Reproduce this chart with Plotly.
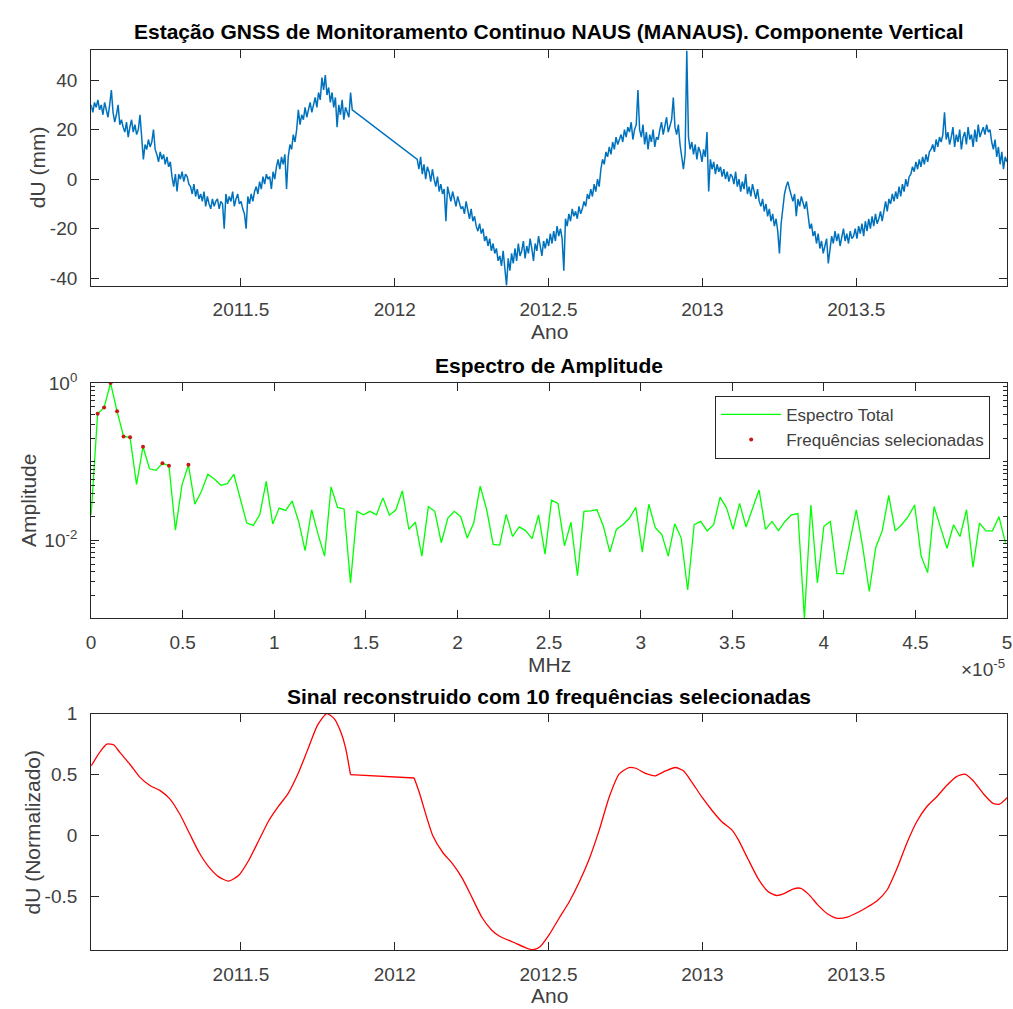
import plotly.graph_objects as go

W, H = 1013, 1009

# ---------------- Panel 1: GNSS vertical component (mm) ----------------
SEG1_START = 2011.013      # first epoch of first data block (year)
SEG2_START = 2012.073      # first epoch after the data gap (year)
STEP_YEARS = 2 / 365.25    # sampling interval (2 days)

du_seg1 = [30, 27, 31, 29, 32, 28, 30, 26, 31, 28, 25, 30,
           36,
           27, 23, 26, 30, 22, 24, 21,
           19, 23, 17, 21, 24, 19, 22, 18, 20, 26, 16,
           8,
           14, 12, 16, 13, 15, 20, 12,
           10, 7, 11, 8, 10, 6, 9, 5, 7,
           1, -3, 2, -5,
           2, 0, 3, -1, 2, 1, -2,
           -3, -6, -2, -7, -4, -8,
           -6, -9, -5, -11, -7, -10, -12, -8, -11, -9,
           -8, -12, -9, -10, -20,
           -6, -10, -7, -9, -5, -11, -8, -6, -10, -9, -12,
           -14, -20,
           -7, -10, -6, -9, -5,
           -3, -6, -1, -4, 1, -2, 2, 0,
           1, -4, 3, 0,
           5, 8, 4, 9, 6, 10, -4,
           9, 14, 12, 18, 15, 20, 28,
           22, 26, 24, 29, 25, 28, 31, 27, 30, 33, 29,
           35, 32, 41, 36, 42, 34,
           37, 31, 35, 29, 33, 21,
           30, 26, 32, 24, 29, 27, 25, 35, 28]

du_seg2 = [8, 4, 9, 2, 6, 0, 5,
           3, -1, 4, 0, -3, 1, -5, -2, -6, -4, -17, -3,
           -6, -9, -5, -8, -11, -7, -10, -12,
           -11, -14, -9, -13, -16, -12, -17, -15, -19, -21,
           -18, -22, -20, -25, -23, -27, -24, -29, -26,
           -30, -28, -33, -31, -35, -29, -36, -43, -32, -37, -30, -34,
           -28, -33, -26, -31, -29, -25, -32, -27, -30, -24, -28, -33, -26, -29, -23, -27, -31, -25, -28,
           -24, -27, -22, -26, -21, -25, -19, -23, -20, -24, -37,
           -16, -19, -14, -17, -12, -15, -13, -16, -11, -14, -12,
           -9, -11, -6, -8, -4, -7, -2, -5, 0, -3,
           4, 8, 6, 11, 9, 13, 10, 15, 12, 17, 14, 16,
           18, 15, 20, 17, 21, 19, 23, 16, 20, 22, 36,
           20, 17, 22, 14, 19, 12, 18, 15, 20, 13, 17, 16,
           20, 23, 18, 21, 25, 19, 22, 24, 33,
           21, 18, 22, 14, 8, 4, 10,
           52,
           17, 12, 15, 10, 14, 8, 13, 11, 7, 12, 9,
           19,
           -5, 8, 4, 7, 2, 6, 3, 5, 1, 4, 0, 3, -1, 2,
           1, -2, 3, -3, 0, -5, -1, -4, 2, -6, -3, -7, -2, -5, -8, -4,
           -9, -11, -8, -13, -10, -15, -12, -17, -14, -19, -16, -21, -30, -18,
           -12, -6, -3, -1, -4,
           -7, -9, -6, -15, -8, -11, -7, -10, -12, -9,
           -16, -20, -18, -23, -21, -26, -22, -28, -25, -30, -27, -24, -34, -28,
           -23, -26, -21, -25, -22, -27, -23, -20, -25, -22, -26, -21, -24, -23,
           -20, -24, -19, -22, -18, -23, -17, -21, -16, -20, -15, -19, -14, -18, -16, -13, -17,
           -12, -9, -13, -8, -10, -6, -9, -5, -8, -3, -7, -2, -5, 0, -3, 1,
           2, 5, 3, 7, 4, 8, 5, 9, 6, 10, 7, 11,
           12, 14, 11, 16, 13, 17, 15, 18, 27, 16,
           19, 14, 17, 21, 13, 18, 15, 20, 12, 17, 19, 14, 21, 16, 18, 13, 20, 15, 22, 17, 19,
           21, 18, 22, 19, 20,
           15, 12, 16, 9, 13, 6, 11, 4, 9, 7]

year_ticks = [2011.5, 2012, 2012.5, 2013, 2013.5]
year_tick_labels = ["2011.5", "2012", "2012.5", "2013", "2013.5"]
du_ticks = [-40, -20, 0, 20, 40]

# ---------------- Panel 2: amplitude spectrum ----------------
FREQ_STEP = 0.0354e-5
amplitude = [0.0211, 0.407, 0.490, 1.0, 0.437, 0.209, 0.204, 0.0513, 0.155, 0.0813,
             0.0776, 0.0955, 0.0891, 0.0135, 0.0501, 0.0912, 0.0288, 0.0417, 0.0692, 0.0603,
             0.0501, 0.0525, 0.0692, 0.0339, 0.0166, 0.0155, 0.0211, 0.0562, 0.0162, 0.0257,
             0.0240, 0.0316, 0.0174, 0.00741, 0.0245, 0.0119, 0.00631, 0.0479, 0.0263, 0.0251,
             0.00288, 0.0234, 0.0211, 0.0234, 0.0211, 0.0347, 0.0209, 0.0245, 0.0427, 0.0138,
             0.0170, 0.00631, 0.0269, 0.0234, 0.00933, 0.0191, 0.0234, 0.0200, 0.0107, 0.0166,
             0.0490, 0.0245, 0.00891, 0.00871, 0.0214, 0.0112, 0.0148, 0.0133, 0.0105, 0.0211,
             0.00668, 0.0324, 0.0295, 0.00851, 0.0170, 0.00355, 0.0234, 0.0237, 0.0245, 0.0151,
             0.00708, 0.0138, 0.0158, 0.0191, 0.0263, 0.00708, 0.0288, 0.0145, 0.0119, 0.00631,
             0.0162, 0.0107, 0.00234, 0.0158, 0.0174, 0.0132, 0.0158, 0.0355, 0.0257, 0.0138,
             0.0295, 0.0148, 0.0257, 0.0437, 0.0138, 0.0174, 0.0133, 0.0174, 0.0211, 0.0219,
             0.00102, 0.0282, 0.00288, 0.0151, 0.0174, 0.00380, 0.00376, 0.00977, 0.0245, 0.00813,
             0.00224, 0.00813, 0.0132, 0.0372, 0.0132, 0.0158, 0.0200, 0.0282, 0.00631, 0.00389,
             0.0269, 0.0145, 0.00794, 0.0158, 0.0112, 0.0245, 0.00457, 0.0166, 0.0132, 0.0132,
             0.0200, 0.00933]
selected_bins = [1, 2, 3, 4, 5, 6, 8, 11, 12, 15]
freq_ticks = [0, 0.5e-5, 1e-5, 1.5e-5, 2e-5, 2.5e-5, 3e-5, 3.5e-5, 4e-5, 4.5e-5, 5e-5]
freq_tick_labels = ["0", "0.5", "1", "1.5", "2", "2.5", "3", "3.5", "4", "4.5", "5"]
amp_ticks = [1e-2, 1e0]
amp_tick_labels = ["10<sup>-2</sup>", "10<sup>0</sup>"]
amp_minor = [m * d for d in (1e-3, 1e-2, 1e-1) for m in range(2, 10)] + [0.1]

# ---------------- Panel 3: reconstructed signal ----------------
# block before the data gap
recon_year_a = [2011.013, 2011.043, 2011.064, 2011.086, 2011.107, 2011.139, 2011.172, 2011.204,
                2011.236, 2011.268, 2011.300, 2011.332, 2011.364, 2011.396, 2011.428, 2011.460,
                2011.493, 2011.525, 2011.557, 2011.589, 2011.621, 2011.653, 2011.685, 2011.717,
                2011.749, 2011.779, 2011.803, 2011.824, 2011.840, 2011.856]
recon_value_a = [0.571, 0.69, 0.75, 0.745, 0.68, 0.585, 0.477, 0.41,
                 0.37, 0.303, 0.18, 0.02, -0.14, -0.26, -0.34, -0.375,
                 -0.327, -0.206, -0.046, 0.115, 0.236, 0.343, 0.504, 0.705,
                 0.906, 1.0, 0.96, 0.853, 0.72, 0.499]
# block after the data gap
recon_year_b = [2012.063, 2012.081, 2012.103, 2012.124, 2012.156, 2012.188, 2012.220, 2012.252,
                2012.284, 2012.316, 2012.342, 2012.385, 2012.428, 2012.449, 2012.471, 2012.503,
                2012.535, 2012.568, 2012.600, 2012.632, 2012.665, 2012.697, 2012.729, 2012.761,
                2012.783, 2012.815, 2012.847, 2012.880, 2012.912, 2012.939, 2012.966, 2012.998,
                2013.030, 2013.062, 2013.095, 2013.116, 2013.148, 2013.181, 2013.213, 2013.240,
                2013.267, 2013.294, 2013.320, 2013.347, 2013.374, 2013.406, 2013.439, 2013.471,
                2013.503, 2013.535, 2013.568, 2013.600, 2013.632, 2013.665, 2013.697, 2013.729,
                2013.761, 2013.794, 2013.826, 2013.853, 2013.880, 2013.913, 2013.945, 2013.966,
                2013.993]
recon_value_b = [0.472, 0.343, 0.155, -0.005, -0.14, -0.233, -0.354, -0.515,
                 -0.676, -0.78, -0.83, -0.877, -0.925, -0.938, -0.917, -0.81,
                 -0.676, -0.54, -0.38, -0.193, 0.048, 0.316, 0.504, 0.558,
                 0.552, 0.51, 0.49, 0.53, 0.558, 0.53, 0.437, 0.316,
                 0.209, 0.115, 0.048, -0.032, -0.193, -0.354, -0.461, -0.493,
                 -0.475, -0.44, -0.434, -0.488, -0.568, -0.643, -0.681, -0.67,
                 -0.635, -0.59, -0.536, -0.448, -0.273, -0.059, 0.115, 0.236,
                 0.316, 0.41, 0.483, 0.504, 0.45, 0.343, 0.263, 0.257,
                 0.316]
norm_ticks = [-0.5, 0, 0.5, 1]
norm_tick_labels = ["-0.5", "0", "0.5", "1"]

# ---------------- derived series ----------------
years = [SEG1_START + i * STEP_YEARS for i in range(len(du_seg1))] + \
        [SEG2_START + i * STEP_YEARS for i in range(len(du_seg2))]
du = du_seg1 + du_seg2
freqs = [i * FREQ_STEP for i in range(len(amplitude))]
sel_f = [freqs[i] for i in selected_bins]
sel_a = [amplitude[i] for i in selected_bins]

# ---------------- figure ----------------
FONT = "Liberation Sans, Arial, Helvetica, sans-serif"
AX = "#262626"
TXT = "#404040"


def px_x(p):
    return p / W


def px_y(p):
    return 1 - p / H


fig = go.Figure()
fig.add_trace(go.Scatter(x=years, y=du, mode="lines",
                         line=dict(color="#0072BD", width=1.5),
                         showlegend=False, xaxis="x", yaxis="y"))
fig.add_trace(go.Scatter(x=freqs, y=amplitude, mode="lines",
                         line=dict(color="#00FF00", width=1.3),
                         name="Espectro Total", xaxis="x2", yaxis="y2"))
fig.add_trace(go.Scatter(x=sel_f, y=sel_a, mode="markers",
                         marker=dict(color="#C81818", size=4),
                         name="Frequências selecionadas", xaxis="x2", yaxis="y2"))
red = dict(color="#FF0000", width=1.3)
fig.add_trace(go.Scatter(x=recon_year_a, y=recon_value_a, mode="lines",
                         line=dict(shape="spline", smoothing=0.6, **red),
                         showlegend=False, xaxis="x3", yaxis="y3"))
fig.add_trace(go.Scatter(x=[recon_year_a[-1], recon_year_b[0]],
                         y=[recon_value_a[-1], recon_value_b[0]], mode="lines",
                         line=red, showlegend=False, xaxis="x3", yaxis="y3"))
fig.add_trace(go.Scatter(x=recon_year_b, y=recon_value_b, mode="lines",
                         line=dict(shape="spline", smoothing=0.6, **red),
                         showlegend=False, xaxis="x3", yaxis="y3"))

common = dict(showline=True, linecolor=AX, linewidth=1, mirror="ticks",
              ticks="inside", ticklen=8, tickcolor=AX, tickwidth=1,
              showgrid=False, zeroline=False, ticklabeloverflow="allow",
              tickfont=dict(family=FONT, size=19, color=TXT))
xdom = [px_x(87), px_x(1012)]
XSO = 7
YSO = 9

fig.update_layout(
    width=W, height=H,
    margin=dict(l=0, r=0, t=0, b=0),
    paper_bgcolor="white", plot_bgcolor="white",
    font=dict(family=FONT, color=TXT),
    xaxis=dict(domain=xdom, anchor="y", range=[2011.013, 2013.99],
               tickmode="array", tickvals=year_ticks, ticktext=year_tick_labels,
               ticklabelstandoff=XSO, **common),
    yaxis=dict(domain=[px_y(277), px_y(38)], anchor="x", range=[-43, 52],
               tickmode="array", tickvals=du_ticks, ticktext=[str(v) for v in du_ticks],
               ticklabelstandoff=YSO, **common),
    xaxis2=dict(domain=xdom, anchor="y2", range=[0, 5e-5],
                tickmode="array", tickvals=freq_ticks, ticktext=freq_tick_labels,
                ticklabelstandoff=XSO, **common),
    yaxis2=dict(domain=[px_y(615), px_y(376)], anchor="x2", type="log",
                range=[-2.99, 0], tickmode="array", tickvals=amp_ticks,
                ticktext=amp_tick_labels, ticklabelstandoff=YSO,
                minor=dict(tickmode="array", tickvals=amp_minor, ticks="inside",
                           ticklen=4, tickcolor=AX, showgrid=False),
                **common),
    xaxis3=dict(domain=xdom, anchor="y3", range=[2011.013, 2013.99],
                tickmode="array", tickvals=year_ticks, ticktext=year_tick_labels,
                ticklabelstandoff=XSO, **common),
    yaxis3=dict(domain=[px_y(952), px_y(712)], anchor="x3", range=[-0.94, 1.0],
                tickmode="array", tickvals=norm_ticks, ticktext=norm_tick_labels,
                ticklabelstandoff=YSO, **common),
    legend=dict(x=px_x(995), xanchor="right", y=px_y(389), yanchor="top",
                bgcolor="white", bordercolor=AX, borderwidth=1,
                font=dict(family=FONT, size=17, color=TXT),
                tracegroupgap=0, itemwidth=60),
)

TITLE_FONT = dict(family=FONT, size=21, color="#000000")
LABEL_FONT = dict(family=FONT, size=21, color=TXT)
cx = px_x(549.5)
annotations = [
    dict(text="<b>Estação GNSS de Monitoramento Continuo NAUS (MANAUS). Componente Vertical</b>",
         x=cx, y=px_y(19), font=TITLE_FONT),
    dict(text="<b>Espectro de Amplitude</b>", x=cx, y=px_y(358), font=TITLE_FONT),
    dict(text="<b>Sinal reconstruido com 10 frequências selecionadas</b>",
         x=cx, y=px_y(695), font=TITLE_FONT),
    dict(text="Ano", x=cx, y=px_y(324), font=LABEL_FONT),
    dict(text="MHz", x=cx, y=px_y(662), font=LABEL_FONT),
    dict(text="Ano", x=cx, y=px_y(998), font=LABEL_FONT),
    dict(text="dU (mm)", x=px_x(33), y=px_y(157), textangle=-90, font=LABEL_FONT),
    dict(text="Amplitude", x=px_x(23), y=px_y(495), textangle=-90, font=LABEL_FONT),
    dict(text="dU (Normalizado)", x=px_x(28), y=px_y(832), textangle=-90, font=LABEL_FONT),
    dict(text="×10<sup>-5</sup>", x=px_x(1012), y=px_y(666), xanchor="right",
         font=dict(family=FONT, size=19, color=TXT)),
]
for a in annotations:
    a.setdefault("xanchor", "center")
    a.setdefault("yanchor", "middle")
    a.update(xref="paper", yref="paper", showarrow=False)
fig.update_layout(annotations=annotations)

fig.write_html("out.html")
